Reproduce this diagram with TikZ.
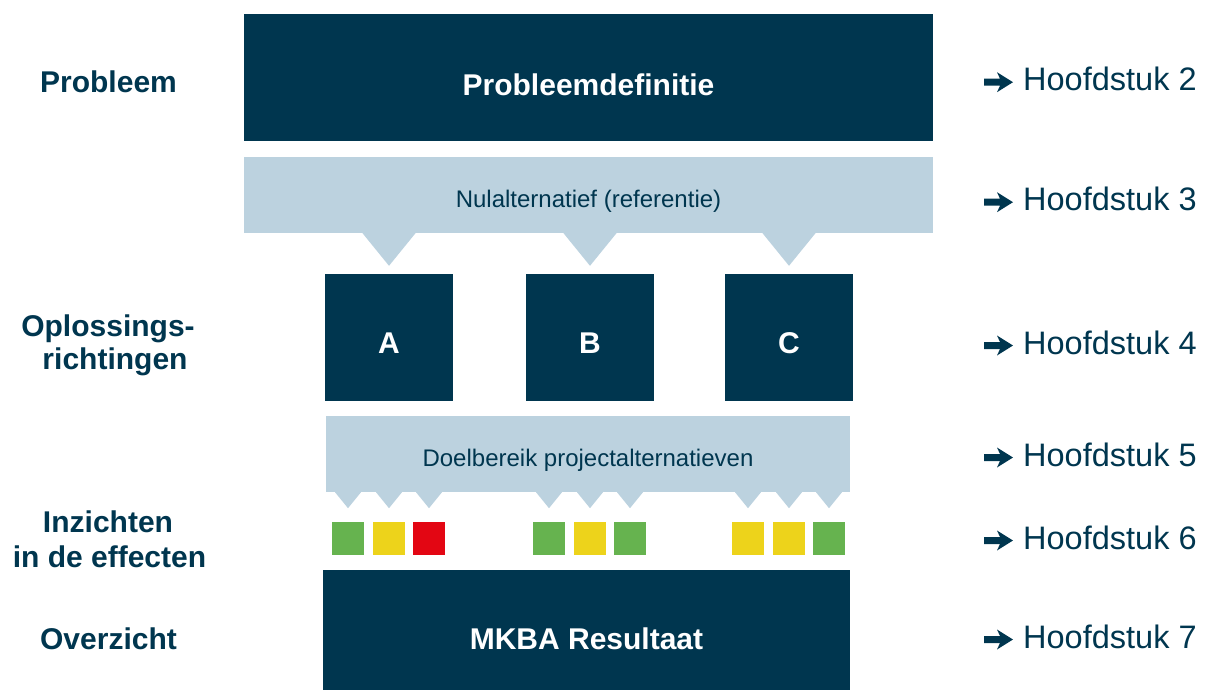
\documentclass[tikz,border=0pt]{standalone}
\usepackage{fontspec}
\setmainfont{Liberation Sans}
\definecolor{navy}{HTML}{00364F}
\definecolor{lblue}{HTML}{BCD2DF}
\definecolor{cgreen}{HTML}{66B34F}
\definecolor{cyellow}{HTML}{EDD31B}
\definecolor{cred}{HTML}{E30613}
\tikzset{
  navybox/.style={fill=navy, draw=none, inner sep=0pt},
  lightbox/.style={fill=lblue, draw=none, inner sep=0pt},
  boldwhite/.style={text=white, font=\fontsize{30}{34}\selectfont\bfseries, anchor=base, inner sep=0pt},
  inner/.style={text=navy, font=\fontsize{24}{28}\selectfont, anchor=base, inner sep=0pt},
  leftlab/.style={text=navy, font=\fontsize{30}{34}\selectfont\bfseries, anchor=base, inner sep=0pt},
  rightlab/.style={text=navy, font=\fontsize{32.5}{36}\selectfont, anchor=base west, inner sep=0pt},
  sq/.style={draw=none, inner sep=0pt, minimum width=32pt, minimum height=33pt},
}
\newcommand{\chaparrow}[1]{%
  \fill[navy] ([shift={(984pt,3.5pt)}]#1) -- ([shift={(1000pt,3.5pt)}]#1) -- ([shift={(997pt,10pt)}]#1)
    -- ([shift={(1013pt,0pt)}]#1) -- ([shift={(997pt,-10pt)}]#1) -- ([shift={(1000pt,-3.5pt)}]#1)
    -- ([shift={(984pt,-3.5pt)}]#1) -- cycle;}
\begin{document}
\begin{tikzpicture}[x=1pt,y=-1pt]
\useasboundingbox (0,0) rectangle (1205,689);

% main boxes
\node[navybox, minimum width=689pt, minimum height=127pt] (prob) at (588.5,77.5) {};
\node[boldwhite] (probt) at (588.5,95.7) {Probleemdefinitie};

\node[lightbox, minimum width=689pt, minimum height=76pt] (nul) at (588.5,195) {};
\node[inner] (nult) at (588.5,207.3) {Nulalternatief (referentie)};

\node[navybox, minimum width=128pt, minimum height=127pt] (A) at (389,337.5) {};
\node[navybox, minimum width=128pt, minimum height=127pt] (B) at (590,337.5) {};
\node[navybox, minimum width=128pt, minimum height=127pt] (C) at (789,337.5) {};
\node[boldwhite] (At) at (389,353.5) {A};
\node[boldwhite] (Bt) at (590,353.5) {B};
\node[boldwhite] (Ct) at (789,353.5) {C};

% triangles from Nulalternatief to A, B, C
\foreach \n in {A,B,C}{
  \fill[lblue] ([xshift=-26.5pt]\n.north |- nul.south) -- ([xshift=26.5pt]\n.north |- nul.south)
    -- ([yshift=8pt]\n.north) -- cycle;
}

\node[lightbox, minimum width=524pt, minimum height=76pt] (doel) at (588,454) {};
\node[inner] (doelt) at (588,466.7) {Doelbereik projectalternatieven};

% small triangles and squares
\foreach \n/\ca/\cb/\cc in {A/cgreen/cyellow/cred, B/cgreen/cyellow/cgreen, C/cyellow/cyellow/cgreen}{
  \foreach \dx/\col/\k in {-41/\ca/1, 0/\cb/2, 40/\cc/3}{
    \fill[lblue] ([xshift=\dx pt-13pt]\n.south |- doel.south) -- ([xshift=\dx pt+13pt]\n.south |- doel.south)
      -- ([xshift=\dx pt, yshift=-16pt]\n.south |- doel.south) -- cycle;
    \node[sq, fill=\col] (sq\n\k) at ([xshift=\dx pt]\n.south |- 0,538.5) {};
  }
}

\node[navybox, minimum width=527pt, minimum height=121pt] (mkba) at (586.5,630.5) {};
\node[boldwhite] (mkbat) at (586.5,649) {MKBA Resultaat};

% left labels
\node[leftlab] (l1) at (108.5,92.3) {Probleem};
\node[leftlab] (l2a) at (108,336.7) {Oplossings-};
\node[leftlab] (l2b) at (115,369.3) {richtingen};
\node[leftlab] (l3a) at (108,532.3) {Inzichten};
\node[leftlab] (l3b) at (109.5,567.7) {in de effecten};
\node[leftlab] (l4) at (108.5,649) {Overzicht};

% right labels
\foreach \i/\y in {2/90.7, 3/210.7, 4/354, 5/466, 6/549, 7/648}{
  \coordinate (ra\i) at (0,\y-8.5);
  \chaparrow{ra\i}
  \node[rightlab] (r\i) at (1023,\y) {Hoofdstuk \i};
}
\end{tikzpicture}
\end{document}
